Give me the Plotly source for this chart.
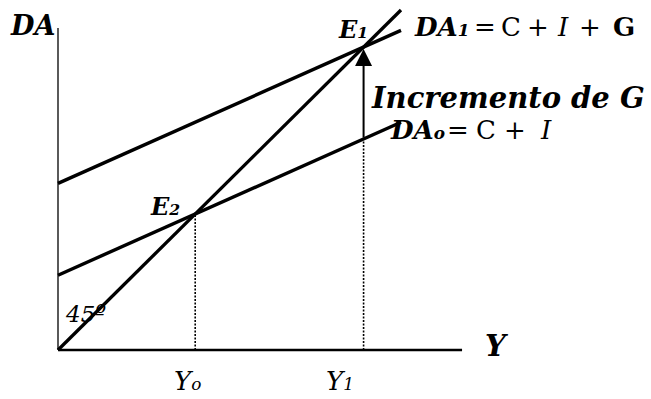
import plotly.graph_objects as go

# ---- data (abstract Keynesian cross) ----
Y_span = [0.0, 10.0]          # income range for the demand lines
mpc = 0.45                    # slope of aggregate demand
da0_intercept = 2.2           # C + I
da1_intercept = 4.9           # C + I + G
x_axis_end = 11.78
y_axis_end = 9.47

DA0 = [da0_intercept + mpc * y for y in Y_span]
DA1 = [da1_intercept + mpc * y for y in Y_span]
diag = list(Y_span)
Y0 = da0_intercept / (1 - mpc)
Y1 = da1_intercept / (1 - mpc)
E2 = da0_intercept + mpc * Y0
E1 = da1_intercept + mpc * Y1
DA0_at_Y1 = da0_intercept + mpc * Y1

# pixel <-> data mapping (margin 0)
W, H = 651, 399
ox, oy = 58, 350
sx, sy = 34.3, 34.0
def dx(px): return (px - ox) / sx
def dy(py): return (oy - py) / sy

FONT = "DejaVu Serif"
fig = go.Figure()
blk = "black"

# axes
fig.add_trace(go.Scatter(x=[0, x_axis_end], y=[0, 0], mode="lines", line=dict(color=blk, width=2.5)))
fig.add_trace(go.Scatter(x=[0, 0], y=[0, y_axis_end], mode="lines", line=dict(color=blk, width=1.3)))
# dotted guides
fig.add_trace(go.Scatter(x=[Y0, Y0], y=[0, E2], mode="lines", line=dict(color=blk, width=1.6, dash="2px,1.5px")))
fig.add_trace(go.Scatter(x=[Y1, Y1], y=[0, DA0_at_Y1], mode="lines", line=dict(color=blk, width=1.6, dash="2px,1.5px")))
# lines
fig.add_trace(go.Scatter(x=Y_span, y=diag, mode="lines", line=dict(color=blk, width=3.3)))
fig.add_trace(go.Scatter(x=Y_span, y=DA0, mode="lines", line=dict(color=blk, width=3.4)))
fig.add_trace(go.Scatter(x=Y_span, y=DA1, mode="lines", line=dict(color=blk, width=3.4)))

# arrow
fig.add_annotation(x=Y1, y=E1, ax=Y1, ay=DA0_at_Y1, xref="x", yref="y", axref="x", ayref="y",
                   text="", showarrow=True, arrowhead=2, arrowsize=1.7, arrowwidth=2,
                   arrowcolor=blk, standoff=2, startstandoff=0)

def label(text, px, py, size, xanchor="center"):
    fig.add_annotation(x=dx(px), y=dy(py), xref="x", yref="y", text=text, showarrow=False,
                       xanchor=xanchor, yanchor="middle",
                       font=dict(family=FONT, size=size, color=blk))

def small(t):
    return '<span style="font-size:65%">' + t + '</span>'

label("<b><i>DA</i></b>", 32, 25, 27)
label("<b><i>E" + small("1") + "</i></b>", 353, 29, 24)
# DA1 = C + I + G
label("<b><i>DA" + small("1") + "</i></b>", 442, 27, 26)
label("=", 485, 27, 26)
label("C", 511, 27, 26)
label("+", 538, 27, 26)
label("<i>I</i>", 563, 27, 26)
label("+", 590, 27, 26)
label("<b>G</b>", 624, 27, 26)

label("<b><i>Incremento de G</i></b>", 508, 98, 29)

# DA0 = C + I
label("<b><i>DA" + small("o") + "</i></b>", 417, 130, 26)
label("=", 458, 130, 26)
label("C", 486, 130, 26)
label("+", 515, 130, 26)
label("<i>I</i>", 546, 130, 26)

label("<b><i>E" + small("2") + "</i></b>", 165, 206, 24)
label("<i>45º</i>", 85, 314, 23)
label("<b><i>Y</i></b>", 497, 346, 29)
label("<i>Y" + small("o") + "</i>", 187, 381, 26)
label("<i>Y" + small("1") + "</i>", 340, 381, 26)

fig.update_layout(
    width=W, height=H, autosize=False,
    margin=dict(l=0, r=0, t=0, b=0),
    paper_bgcolor="white", plot_bgcolor="white",
    showlegend=False,
    xaxis=dict(visible=False, range=[dx(0), dx(W)], fixedrange=True),
    yaxis=dict(visible=False, range=[dy(H), dy(0)], fixedrange=True),
)
fig.write_html("out.html", post_script="document.body.style.margin='0';",
               config={"displayModeBar": False})
